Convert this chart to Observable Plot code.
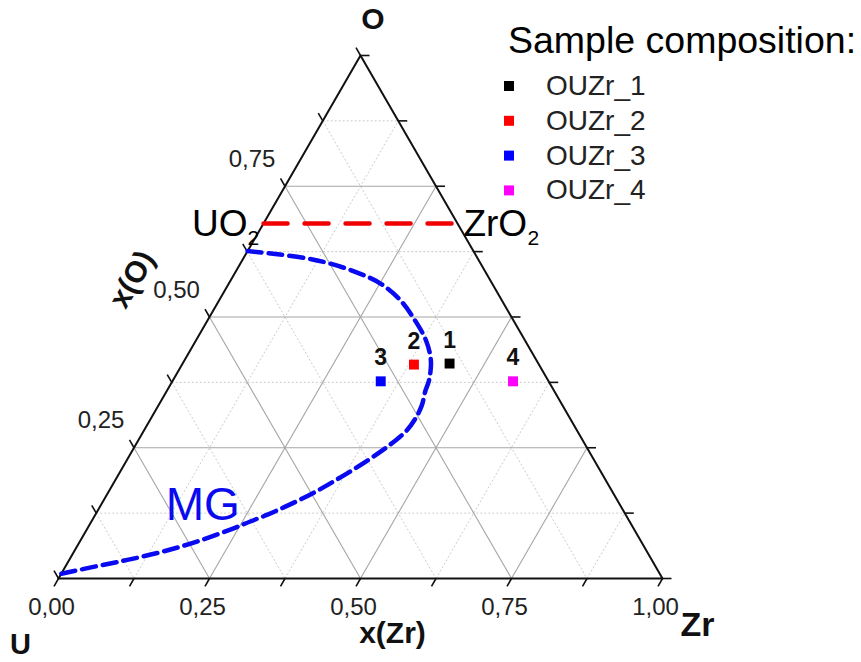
<!DOCTYPE html>
<html><head><meta charset="utf-8">
<script src="https://cdn.jsdelivr.net/npm/d3@7"></script>
<script src="https://cdn.jsdelivr.net/npm/@observablehq/plot@0.6"></script>
<style>
body{margin:0;background:#fff;}
#wrap{position:relative;width:861px;height:662px;font-family:"Liberation Sans",Arial,sans-serif;}
#legend{position:absolute;left:490px;top:0;}
</style></head><body><div id="wrap"></div>
<script>
// ---- Samples (mole fractions) ----
const sampleNames  = ["OUZr_1", "OUZr_2", "OUZr_3", "OUZr_4"];
const sampleLabels = ["1", "2", "3", "4"];
const sampleZr     = [0.442, 0.384, 0.345, 0.564];
const sampleO      = [0.411, 0.409, 0.377, 0.377];
const sampleColors = ["#000000", "#ff0000", "#0000ff", "#ff00ff"];

// ---- MG (miscibility gap) boundary, x(Zr) and x(O) ----
const mgZr = [0.000, 0.045, 0.106, 0.149, 0.202, 0.251, 0.300, 0.344, 0.381, 0.408, 0.424, 0.428, 0.436, 0.438, 0.435, 0.426, 0.415, 0.399, 0.381, 0.363, 0.345, 0.325, 0.305, 0.285, 0.263, 0.242, 0.199, 0.154, 0.105, 0.057, 0.000];
const mgO  = [0.626, 0.621, 0.612, 0.602, 0.585, 0.564, 0.532, 0.493, 0.455, 0.417, 0.379, 0.359, 0.331, 0.306, 0.283, 0.264, 0.247, 0.226, 0.205, 0.186, 0.168, 0.151, 0.136, 0.122, 0.109, 0.096, 0.073, 0.054, 0.038, 0.025, 0.009];
const mgLabel = {text: "MG", zr: 0.122, o: 0.111};

// ---- UO2 – ZrO2 tie line ----
const tieO = 0.679;

// ---- axes ----
const tickValues   = [0, 0.125, 0.25, 0.375, 0.5, 0.625, 0.75, 0.875, 1];
const majorGrid    = [0.25, 0.5, 0.75];
const minorGrid    = [0.125, 0.375, 0.625, 0.875];
const leftTicks    = [0.25, 0.5, 0.75];
const leftLabels   = ["0,25", "0,50", "0,75"];
const bottomTicks  = [0, 0.25, 0.5, 0.75, 1];
const bottomLabels = ["0,00", "0,25", "0,50", "0,75", "1,00"];

// ---- ternary -> cartesian ----
const S = Math.sqrt(3) / 2;
const X = (zr, o) => zr + o / 2;
const Y = (o) => o * S;

function gridLines(vals) {
  const out = [];
  for (const c of vals) {
    out.push({x1: X(0, c), y1: Y(c), x2: X(1 - c, c), y2: Y(c)});           // const O
    out.push({x1: X(c, 0), y1: 0, x2: X(c, 1 - c), y2: Y(1 - c)});           // const Zr
    out.push({x1: X(0, 1 - c), y1: Y(1 - c), x2: X(1 - c, 0), y2: 0});       // const U
  }
  return out;
}
const L = 9 / 604;
const ticks = [];
for (const c of tickValues) {
  ticks.push({x1: X(c, 0), y1: 0, x2: X(c, 0) - 0.5 * L, y2: -S * L});           // bottom
  ticks.push({x1: X(0, c), y1: Y(c), x2: X(0, c) - 0.5 * L, y2: Y(c) + S * L});   // left
  ticks.push({x1: X(1 - c, c), y1: Y(c), x2: X(1 - c, c) + L, y2: Y(c)});        // right
}
const border = [{zr: 0, o: 0}, {zr: 1, o: 0}, {zr: 0, o: 1}, {zr: 0, o: 0}];
const samples = sampleNames.map((n, i) => ({name: n, label: sampleLabels[i], zr: sampleZr[i], o: sampleO[i], color: sampleColors[i]}));
const mg = mgZr.map((z, i) => ({zr: z, o: mgO[i]}));
const tie = [{zr: 0, o: tieO}, {zr: 1 - tieO, o: tieO}];
const leftLab = leftTicks.map((v, i) => ({o: v, t: leftLabels[i]}));
const botLab = bottomTicks.map((v, i) => ({zr: v, t: bottomLabels[i]}));

const font = "Liberation Sans, Arial, sans-serif";
const px = d => X(d.zr, d.o), py = d => Y(d.o);

const chart = Plot.plot({
  width: 861, height: 662,
  marginLeft: 58, marginRight: 199, marginTop: 55, marginBottom: 84,
  x: {domain: [0, 1], axis: null},
  y: {domain: [0, S], axis: null},
  color: {type: "identity"},
  style: {fontFamily: font, background: "white", overflow: "visible"},
  marks: [
    Plot.link(gridLines(minorGrid), {x1: "x1", y1: "y1", x2: "x2", y2: "y2", stroke: "#cccccc", strokeWidth: 1, strokeDasharray: "2,2"}),
    Plot.link(gridLines(majorGrid), {x1: "x1", y1: "y1", x2: "x2", y2: "y2", stroke: "#a6a6a6", strokeWidth: 1.1}),
    Plot.link(ticks, {x1: "x1", y1: "y1", x2: "x2", y2: "y2", stroke: "#111", strokeWidth: 1.6}),
    Plot.line(border, {x: px, y: py, stroke: "#111", strokeWidth: 2}),
    Plot.text(leftLab, {x: d => X(0, d.o), y: d => Y(d.o), text: "t", dx: -33, dy: -19.5, lineAnchor: "bottom", fontSize: 24, fill: "#222"}),
    Plot.text(botLab, {x: d => X(d.zr, 0), y: 0, text: "t", dx: -7, dy: 36, lineAnchor: "bottom", fontSize: 24, fill: "#222"}),
    // tie line and labels
    Plot.line(tie, {x: px, y: py, stroke: "#f00000", strokeWidth: 4.5, strokeDasharray: "24,17"}),
    Plot.text([tie[0]], {x: px, y: py, text: () => "UO", textAnchor: "end", lineAnchor: "bottom", dx: -16, dy: 13, fontSize: 37, fill: "#000"}),
    Plot.text([tie[0]], {x: px, y: py, text: () => "2", textAnchor: "start", lineAnchor: "bottom", dx: -16, dy: 22, fontSize: 21, fill: "#000"}),
    Plot.text([tie[1]], {x: px, y: py, text: () => "ZrO", textAnchor: "start", lineAnchor: "bottom", dx: 6, dy: 13, fontSize: 37, fill: "#000"}),
    Plot.text([tie[1]], {x: px, y: py, text: () => "2", textAnchor: "start", lineAnchor: "bottom", dx: 70, dy: 22, fontSize: 21, fill: "#000"}),
    // MG curve
    Plot.line(mg, {x: px, y: py, curve: "catmull-rom", stroke: "#0a0af0", strokeWidth: 4.5, strokeDasharray: "14,7"}),
    Plot.text([mgLabel], {x: px, y: py, text: "text", textAnchor: "start", lineAnchor: "bottom", fontSize: 46, fill: "#0a0af0"}),
    // samples
    Plot.dot(samples, {x: px, y: py, symbol: "square", r: 5.6, fill: "color", stroke: null}),
    Plot.text(samples, {x: px, y: py, text: "label", dy: -16, lineAnchor: "bottom", fontSize: 23, fontWeight: "bold", fill: "#111"}),
    // vertex and axis titles
    Plot.text([{zr: 0, o: 1}], {x: px, y: py, text: () => "O", dx: 12.5, dy: -27, lineAnchor: "bottom", fontSize: 30, fontWeight: "bold", fill: "#111"}),
    Plot.text([{zr: 0, o: 0}], {x: px, y: py, text: () => "U", dx: -38, dy: 75, lineAnchor: "bottom", fontSize: 29, fontWeight: "bold", fill: "#111"}),
    Plot.text([{zr: 1, o: 0}], {x: px, y: py, text: () => "Zr", dx: 35, dy: 57, lineAnchor: "bottom", fontSize: 34, fontWeight: "bold", fill: "#111"}),
    Plot.text([{zr: 0.5, o: 0}], {x: px, y: py, text: () => "x(Zr)", dx: 32, dy: 64, lineAnchor: "bottom", fontSize: 30, fontWeight: "bold", fill: "#111"}),
    Plot.text([{zr: 0, o: 0.572}], {x: px, y: py, text: () => "x(O)", dx: -99, dy: 0, rotate: -60, fontSize: 30, fontWeight: "bold", fill: "#111"})
  ]
});

const wrap = document.getElementById("wrap");
wrap.appendChild(chart);

// ---- legend ----
const leg = d3.select(wrap).append("svg").attr("id", "legend")
  .attr("width", 371).attr("height", 215)
  .style("font-family", font);
leg.append("text").attr("x", 18).attr("y", 53).attr("font-size", 37.5).attr("fill", "#000").text("Sample composition:");
const rows = leg.selectAll("g.row").data(samples).join("g").attr("class", "row")
  .attr("transform", (d, i) => `translate(0,${86 + 34.8 * i})`);
rows.append("rect").attr("x", 14).attr("y", -5).attr("width", 10).attr("height", 10).attr("fill", d => d.color);
rows.append("text").attr("x", 56).attr("y", 9).attr("font-size", 28).attr("fill", "#222").text(d => d.name);
</script></body></html>
